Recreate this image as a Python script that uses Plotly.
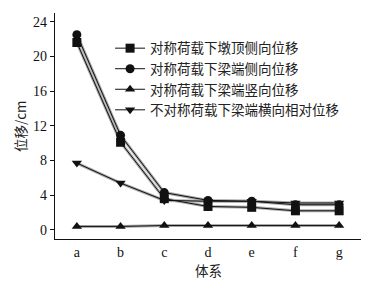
import plotly.graph_objects as go

categories = ["a", "b", "c", "d", "e", "f", "g"]
names = ["对称荷载下墩顶侧向位移", "对称荷载下梁端侧向位移", "对称荷载下梁端竖向位移", "不对称荷载下梁端横向相对位移"]
pier_lateral = [21.6, 10.1, 3.6, 2.7, 2.6, 2.2, 2.2]
beam_lateral = [22.5, 10.9, 4.3, 3.4, 3.3, 2.9, 2.9]
beam_vertical = [0.4, 0.4, 0.5, 0.5, 0.5, 0.5, 0.5]
beam_relative = [7.7, 5.4, 3.4, 3.3, 3.3, 3.1, 3.1]
yticks = [0, 4, 8, 12, 16, 20, 24]

series = [pier_lateral, beam_lateral, beam_vertical, beam_relative]
symbols = ["square", "circle", "triangle-up", "triangle-down"]

fig = go.Figure()
for vals in series:
    fig.add_trace(go.Scatter(x=categories, y=vals, mode="lines",
                             line=dict(color="#aaaaaa", width=3),
                             showlegend=False, hoverinfo="skip"))
for name, vals, sym in zip(names, series, symbols):
    fig.add_trace(go.Scatter(x=categories, y=vals, mode="lines+markers", name=name,
                             line=dict(color="#111111", width=1),
                             marker=dict(symbol=sym, size=9, color="#111111")))

serif = "Liberation Serif"
cjk = "Noto Sans CJK SC"
fig.update_layout(
    width=366, height=273,
    margin=dict(l=47, r=13, t=5, b=42),
    paper_bgcolor="white", plot_bgcolor="white",
    font=dict(family=serif, size=13, color="#111111"),
    legend=dict(x=0.18, y=0.912, xanchor="left", yanchor="top",
                bgcolor="rgba(0,0,0,0)", font=dict(family=cjk, size=13.5, color="#222222"),
                tracegroupgap=0, itemwidth=30),
    xaxis=dict(type="category", range=[-0.5, 6.5], showline=True, linecolor="#111111",
               linewidth=1.2, ticks="", showgrid=False, zeroline=False, automargin=False,
               tickfont=dict(family=serif, size=14)),
    yaxis=dict(range=[-1.05, 25], tickvals=yticks, showline=True, linecolor="#111111",
               linewidth=1.2, ticks="outside", ticklen=4, tickcolor="#111111",
               showgrid=False, zeroline=False, automargin=False,
               tickfont=dict(family=serif, size=14)),
    annotations=[
        dict(text="体系", x=0.5, y=-0.138, xref="paper", yref="paper", xanchor="center",
             yanchor="middle", showarrow=False, font=dict(family=cjk, size=13.5, color="#222222")),
        dict(text="位移/cm", x=-0.114, y=0.5, xref="paper", yref="paper", xanchor="center",
             yanchor="middle", textangle=-90, showarrow=False,
             font=dict(family=cjk, size=13.5, color="#222222")),
    ],
)
fig.write_html("out.html")
